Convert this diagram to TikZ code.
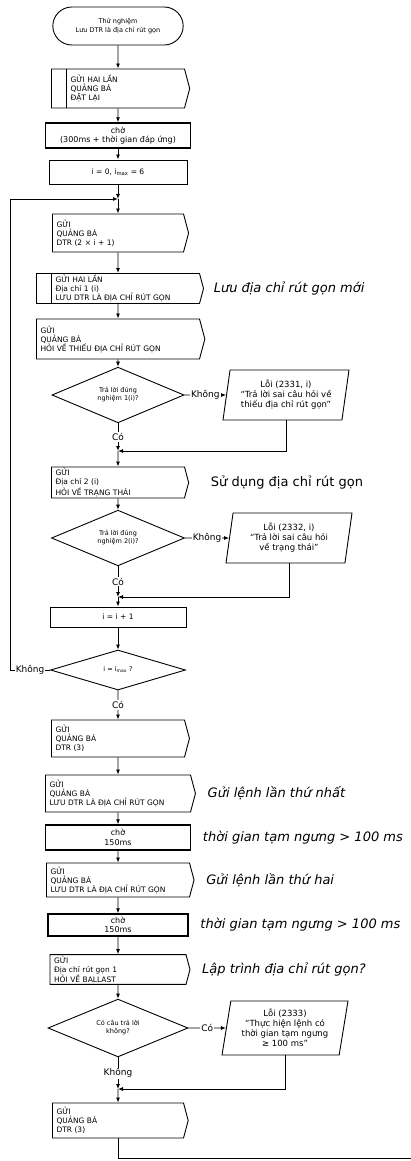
\documentclass[tikz,border=0pt]{standalone}
\usepackage{fontspec}
\setmainfont{DejaVu Sans}
\usetikzlibrary{positioning,arrows.meta,shapes.geometric,shapes.symbols,shapes.misc}

\begin{document}
\begin{tikzpicture}[x=1pt,y=-1pt,line width=0.9pt,
          arr/.style={-{Latex[length=5pt,width=4pt]}},
          termbox/.style={draw,rounded rectangle,minimum width=137pt,
            minimum height=38pt,font=\fontsize{6.5}{8.5}\selectfont,align=center},
          sendbox/.style={draw,signal,signal to=east,signal pointer angle=150,
            font=\fontsize{7.5}{9}\selectfont,align=left,inner xsep=4pt,
            inner ysep=1.5pt,text width=#1},
          subbox/.style={inner xsep=19pt,path picture={
            \draw ([xshift=15pt]path picture bounding box.north west)
              -- ([xshift=15pt]path picture bounding box.south west);}},
          waitbox/.style={draw,line width=1.4pt,font=\fontsize{8}{9.5}\selectfont,
            align=center,minimum width=#1,minimum height=25pt,inner sep=1pt},
          procbox/.style={draw,font=\fontsize{7.5}{9}\selectfont,
            minimum width=#1,minimum height=22pt},
          decision/.style={draw,diamond,inner sep=0pt,
            font=\fontsize{6.5}{8}\selectfont,align=center},
          errbox/.style={draw,trapezium,trapezium left angle=78,
            trapezium right angle=102,trapezium stretches body,
            minimum width=126pt,minimum height=50pt,inner sep=2pt,
            font=\fontsize{8.5}{10}\selectfont,align=center},
          note/.style={font=\fontsize{13}{15}\selectfont\itshape,anchor=west},
          ans/.style={font=\fontsize{9}{10}\selectfont,fill=white,inner sep=1pt}]

        \useasboundingbox (0,0) rectangle (411,1161);

        \node[termbox] (start) at (118,26)
          {Thử nghiệm\\Lưu DTR là địa chỉ rút gọn};
        \node[sendbox=95pt,subbox,minimum height=39pt] (reset) at (118,88.5)
          {GỬI HAI LẦN\\QUẢNG BÁ\\ĐẶT LẠI};
        \node[waitbox=145pt] (wait1) at (118,135.5)
          {chờ\\(300ms + thời gian đáp ứng)};
        \node[procbox=138pt,minimum height=24pt] (init) at (118,172)
          {i = 0,\ i\textsubscript{max} = 6};
        \coordinate (j1) at (118,199);

        \node[sendbox=123pt,minimum height=38pt] (dtr1) at (118,233)
          {GỬI\\QUẢNG BÁ\\DTR (2 × i + 1)};
        \node[sendbox=125pt,subbox,minimum height=29pt] (store1) at (118,288.5)
          {GỬI HAI LẦN\\Địa chỉ 1 (i)\\LƯU DTR LÀ ĐỊA CHỈ RÚT GỌN};
        \node[note,right=6pt of store1.east] (n1) {Lưu địa chỉ rút gọn mới};
        \node[sendbox=155pt,minimum height=40pt] (qmiss) at (118,339)
          {GỬI\\QUẢNG BÁ\\HỎI VỀ THIẾU ĐỊA CHỈ RÚT GỌN};
        \node[decision,minimum width=132pt,minimum height=38pt] (ans1) at (118,395)
          {Trả lời đúng\\nghiệm 1(i)?};
        \node[errbox] (err1) at (286,395)
          {Lỗi (2331, i)\\“Trả lời sai câu hỏi về\\thiếu địa chỉ rút gọn”};
        \coordinate (j2) at (118,451);

        \node[sendbox=125pt,minimum height=31pt] (qstat) at (118,482.5)
          {GỬI\\Địa chỉ 2 (i)\\HỎI VỀ TRẠNG THÁI};
        \node[note,font=\fontsize{13}{15}\selectfont,right=18pt of qstat.east] (n2)
          {Sử dụng địa chỉ rút gọn};
        \node[decision,minimum width=133pt,minimum height=40pt] (ans2) at (118,538)
          {Trả lời đúng\\nghiệm 2(i)?};
        \node[errbox] (err2) at (289,538)
          {Lỗi (2332, i)\\“Trả lời sai câu hỏi\\về trạng thái”};
        \coordinate (j3) at (118,597);

        \node[procbox=136pt,minimum height=20pt] (inc) at (118,617) {i = i + 1};
        \node[decision,minimum width=135pt,minimum height=40pt] (last) at (118,670)
          {i = i\textsubscript{max} ?};
        \coordinate (lp) at (10,670);

        \node[sendbox=125pt,minimum height=37pt] (dtr2) at (118,738.5)
          {GỬI\\QUẢNG BÁ\\DTR (3)};
        \node[sendbox=137pt,minimum height=37pt] (first) at (118,793.5)
          {GỬI\\QUẢNG BÁ\\LƯU DTR LÀ ĐỊA CHỈ RÚT GỌN};
        \node[note,right=8pt of first.east] (n3) {Gửi lệnh lần thứ nhất};
        \node[waitbox=145pt] (wait2) at (118,837.5) {chờ\\150ms};
        \node[note,right=8pt of wait2.east] (n4) {thời gian tạm ngưng > 100 ms};
        \node[sendbox=135pt,minimum height=34pt] (second) at (118,880)
          {GỬI\\QUẢNG BÁ\\LƯU DTR LÀ ĐỊA CHỈ RÚT GỌN};
        \node[note,right=8pt of second.east] (n5) {Gửi lệnh lần thứ hai};
        \node[waitbox=140pt,minimum height=22pt] (wait3) at (118,925) {chờ\\150ms};
        \node[note,right=8pt of wait3.east] (n6) {thời gian tạm ngưng > 100 ms};
        \node[sendbox=128pt,minimum height=29pt] (qbal) at (118,969.5)
          {GỬI\\Địa chỉ rút gọn 1\\HỎI VỀ BALLAST};
        \node[note,right=8pt of qbal.east] (n7) {Lập trình địa chỉ rút gọn?};
        \node[decision,minimum width=140pt,minimum height=44pt] (ans3) at (118,1028)
          {Có câu trả lời\\không?};
        \node[errbox,minimum height=54pt] (err3) at (285,1028)
          {Lỗi (2333)\\“Thực hiện lệnh có\\thời gian tạm ngưng\\≥ 100 ms”};
        \coordinate (j4) at (118,1089);

        \node[sendbox=123pt,minimum height=35pt] (dtr3) at (118,1120.5)
          {GỬI\\QUẢNG BÁ\\DTR (3)};
        \coordinate (exit) at (411,1158);

        \draw[arr] (start) -- (reset);
        \draw[arr] (reset) -- (wait1);
        \draw[arr] (wait1) -- (init);
        \draw[arr] (init) -- (j1);
        \draw[arr] (j1) -- (dtr1);
        \draw[arr] (dtr1) -- (store1);
        \draw[arr] (store1) -- (qmiss);
        \draw[arr] (qmiss) -- (ans1);
        \draw[arr] (ans1.east) -- node[ans] {Không} (err1.west);
        \draw[arr] (ans1.south) -- node[ans] {Có} (j2);
        \draw[arr] (err1.south) |- (j2);
        \draw[arr] (j2) -- (qstat);
        \draw[arr] (qstat) -- (ans2);
        \draw[arr] (ans2.east) -- node[ans] {Không} (err2.west);
        \draw[arr] (ans2.south) -- node[ans] {Có} (j3);
        \draw[arr] (err2.south) |- (j3);
        \draw[arr] (j3) -- (inc);
        \draw[arr] (inc) -- (last);
        \draw[arr] (last.west) -- node[ans] {Không} (lp) |- (j1);
        \draw[arr] (last.south) -- node[ans] {Có} (dtr2);
        \draw[arr] (dtr2) -- (first);
        \draw[arr] (first) -- (wait2);
        \draw[arr] (wait2) -- (second);
        \draw[arr] (second) -- (wait3);
        \draw[arr] (wait3) -- (qbal);
        \draw[arr] (qbal) -- (ans3);
        \draw[arr] (ans3.east) -- node[ans] {Có} (err3.west);
        \draw[arr] (ans3.south) -- node[ans] {Không} (j4);
        \draw[arr] (err3.south) |- (j4);
        \draw[arr] (j4) -- (dtr3);
        \draw (dtr3.south) |- (exit);
      \end{tikzpicture}
\end{document}
